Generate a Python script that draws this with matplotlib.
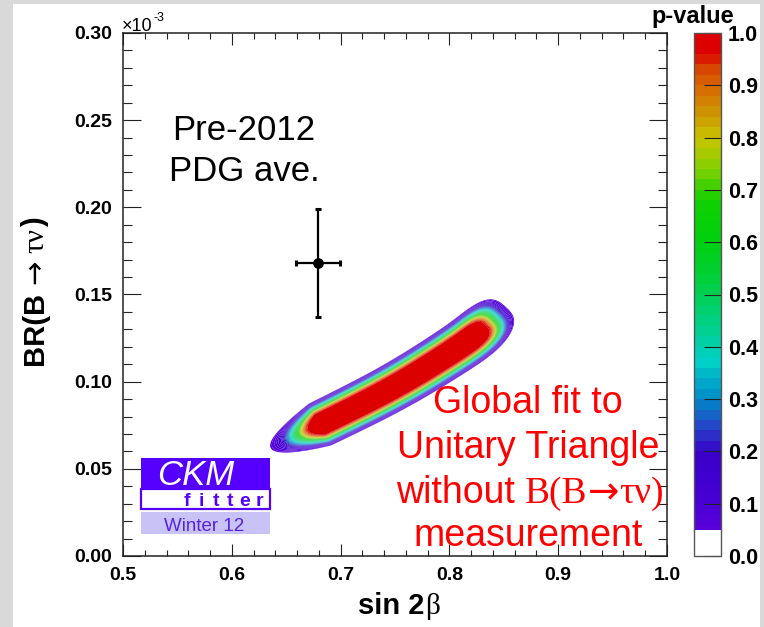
import numpy as np
import matplotlib
matplotlib.use("Agg")
from matplotlib import pyplot as plt
from matplotlib.colors import ListedColormap, BoundaryNorm, LinearSegmentedColormap
from matplotlib.cm import ScalarMappable
from matplotlib.patches import Rectangle
from matplotlib.ticker import MultipleLocator, FormatStrFormatter

plt.rcParams["font.family"] = ["Liberation Sans", "DejaVu Sans"]
plt.rcParams["font.weight"] = "bold"
SERIF = ["Liberation Serif", "DejaVu Serif"]

# Pre-2012 PDG average, BR in units of 1e-3
pdg_sin2b = 0.679
pdg_sin2b_err = 0.020
pdg_br = 0.168
pdg_br_err = 0.031

# global fit band: ridge line, half-width (axis-fraction units), plateau ends
ridge_x = [0.628, 0.692, 0.750, 0.798, 0.826, 0.851, 0.874]
ridge_y = [0.0597, 0.0786, 0.0969, 0.1153, 0.1273, 0.1423, 0.1577]
ridge_halfwidth = [0.044, 0.045, 0.046, 0.047, 0.048, 0.048, 0.048]
core_x = [0.681, 0.815]
tail_len = [0.101, 0.10]
plateau = 0.445

# p-value palette
pal_vals = [0.05, 0.12, 0.20, 0.24, 0.30, 0.37, 0.45, 0.52, 0.60, 0.68,
            0.74, 0.80, 0.84, 0.90, 0.94, 0.96, 1.00]
pal_cols = ["#5a00dc", "#4400d2", "#3800c8", "#2840c8", "#0088c8", "#00d0c8",
            "#00d080", "#00d040", "#00d010", "#10d000", "#80d000", "#c8c400",
            "#cc9c00", "#d86800", "#d84000", "#dd0000", "#dd0000"]

XMIN, XMAX, YMIN, YMAX = 0.5, 1.0, 0.0, 0.30


def chaikin(pts, n=3):
    pts = np.asarray(pts, dtype=float)
    for _ in range(n):
        a, b = pts[:-1], pts[1:]
        mid = np.empty((2 * len(a), pts.shape[1]))
        mid[0::2] = 0.75 * a + 0.25 * b
        mid[1::2] = 0.25 * a + 0.75 * b
        pts = np.vstack([pts[:1], mid, pts[-1:]])
    return pts


def band_pvalue(X, Y):
    # distances measured in axis fractions so the band width is even on screen
    line = chaikin(np.column_stack([ridge_x, ridge_y, ridge_halfwidth]))
    lx, ly, lw = line[:, 0], line[:, 1], line[:, 2]
    cu = (lx - XMIN) / (XMAX - XMIN)
    cv = (ly - YMIN) / (YMAX - YMIN)
    U = (X - XMIN) / (XMAX - XMIN)
    V = (Y - YMIN) / (YMAX - YMIN)
    seg = np.hypot(np.diff(cu), np.diff(cv))
    s_nodes = np.concatenate([[0.0], np.cumsum(seg)])
    best_d = np.full(U.shape, np.inf)
    best_s = np.zeros(U.shape)
    for i in range(len(seg)):
        dx, dy = cu[i + 1] - cu[i], cv[i + 1] - cv[i]
        t = np.clip(((U - cu[i]) * dx + (V - cv[i]) * dy) / seg[i] ** 2, 0, 1)
        d = np.hypot(U - (cu[i] + t * dx), V - (cv[i] + t * dy))
        m = d < best_d
        best_d[m] = d[m]
        best_s[m] = (s_nodes[i] + t * seg[i])[m]
    w = np.interp(best_s, s_nodes, lw)
    s_a = np.interp(core_x[0], lx, s_nodes)
    s_b = np.interp(core_x[1], lx, s_nodes)
    rt = best_d / w
    e_lo = np.clip(s_a - best_s, 0, None) / tail_len[0]
    e_hi = np.clip(best_s - s_b, 0, None) / tail_len[1]
    # lower end tapers to a point, upper end stays rounder
    r = np.where(e_lo > 0, np.sqrt(rt ** 2 + e_lo), (rt ** 3 + e_hi ** 3) ** (1 / 3))
    sig = (1 - plateau) / np.sqrt(2 * np.log(20))
    p = np.where(r < plateau, 1.0, np.exp(-0.5 * ((r - plateau) / sig) ** 2))
    return np.clip(p, 0, 0.9999)


# colour bands: white below 0.05, then 0.02 steps
bounds = [0.0, 0.05] + list(np.round(np.arange(0.06, 1.0001, 0.02), 2))
smooth = LinearSegmentedColormap.from_list(
    "pv", [((v - 0.05) / 0.95, c) for v, c in zip(pal_vals, pal_cols)])
band_cols = ["white"] + [smooth(((a + b) / 2 - 0.05) / 0.95)
                         for a, b in zip(bounds[1:-1], bounds[2:])]
cmap = ListedColormap(band_cols)
norm = BoundaryNorm(bounds, cmap.N)


def fx(px):
    return px / 764


def fy(py):
    return 1 - py / 627


fig = plt.figure(figsize=(7.64, 6.27), dpi=100, facecolor="#d9d9d9")
renderer = fig.canvas.get_renderer()
fig.add_artist(Rectangle((fx(13), 0), fx(760) - fx(13), fy(4), transform=fig.transFigure,
                         facecolor="white", edgecolor="none", zorder=-5))


def text_run(xc, base, pieces, vertical=False, **common):
    """Lay out differently styled pieces one after another, centred on xc."""
    styles = [{**common, **kw} for _, _, kw in pieces]
    widths = []
    for (txt, gap, _), st in zip(pieces, styles):
        t = fig.text(0, 0, txt, **st)
        widths.append(t.get_window_extent(renderer).width + gap)
        t.remove()
    total = sum(widths)
    if vertical:
        # reads bottom to top, pixel rows count downwards
        pos = xc + total / 2
        for (txt, _, _), st, wd in zip(pieces, styles, widths):
            fig.text(fx(base), fy(pos), txt, rotation=90, rotation_mode="anchor",
                     ha="left", va="baseline", **st)
            pos -= wd
    else:
        pos = xc - total / 2
        for (txt, _, _), st, wd in zip(pieces, styles, widths):
            fig.text(fx(pos), fy(base), txt, ha="left", va="baseline", **st)
            pos += wd


ax = fig.add_axes([fx(123), fy(556), fx(667) - fx(123), fy(33) - fy(556)])
gx = np.linspace(XMIN, XMAX, 800)
gy = np.linspace(YMIN, YMAX, 800)
GX, GY = np.meshgrid(gx, gy)
P = band_pvalue(GX, GY)
ax.contourf(GX, GY, P, levels=bounds[1:], cmap=cmap, norm=norm, antialiased=True)

ax.errorbar([pdg_sin2b], [pdg_br], xerr=[pdg_sin2b_err], yerr=[pdg_br_err], fmt="o",
            color="black", ms=6.7, lw=1.6, capsize=2, capthick=2.2, zorder=5)

ax.set_xlim(XMIN, XMAX)
ax.set_ylim(YMIN, YMAX)
ax.xaxis.set_major_locator(MultipleLocator(0.1))
ax.xaxis.set_minor_locator(MultipleLocator(0.02))
ax.yaxis.set_major_locator(MultipleLocator(0.05))
ax.yaxis.set_minor_locator(MultipleLocator(0.01))
ax.xaxis.set_major_formatter(FormatStrFormatter("%.1f"))
ax.yaxis.set_major_formatter(FormatStrFormatter("%.2f"))
ax.tick_params(which="both", direction="in", top=True, right=True, width=0.8,
               colors="#222222", labelcolor="black", labelsize=14)
ax.tick_params(axis="x", which="major", length=8.6, pad=8)
ax.tick_params(axis="x", which="minor", length=4.3)
ax.tick_params(axis="y", which="major", length=13, pad=8)
ax.tick_params(axis="y", which="minor", length=6.5)
for sp in ax.spines.values():
    sp.set_linewidth(1.1)
    sp.set_color("#222222")

fig.text(fx(122), fy(31), "×10", fontsize=13, fontweight="normal", ha="left", va="baseline")
fig.text(fx(154), fy(21), "-3", fontsize=9, fontweight="normal", ha="left", va="baseline")

# text annotations
fig.text(fx(244), fy(140), "Pre-2012", fontsize=25, fontweight="normal",
         ha="center", va="baseline")
fig.text(fx(244), fy(181), "PDG ave.", fontsize=25, fontweight="normal",
         ha="center", va="baseline")
arrow = {"family": ["DejaVu Sans"], "fontweight": "normal"}
serif = {"family": SERIF, "fontweight": "normal"}
red = dict(fontsize=27, fontweight="normal", color="#ff0000", zorder=6)
fig.text(fx(528), fy(413), "Global fit to", ha="center", va="baseline", **red)
fig.text(fx(528), fy(458), "Unitary Triangle", ha="center", va="baseline", **red)
text_run(530, 503, [("without", 10, {}), ("B(B", 0, serif), ("→", 0, arrow),
                    ("τν)", 0, serif)], **red)
fig.text(fx(528), fy(546), "measurement", ha="center", va="baseline", **red)

# CKMfitter logo
logo = "#5500ff"
ax.add_patch(Rectangle((0.0325, 0.128), 0.2377, 0.060, transform=ax.transAxes,
                       facecolor=logo, edgecolor="none", zorder=4))
ax.add_patch(Rectangle((0.0325, 0.0899), 0.2377, 0.0381, transform=ax.transAxes,
                       facecolor="white", edgecolor=logo, lw=1.6, zorder=4))
ax.add_patch(Rectangle((0.0325, 0.042), 0.2377, 0.0421, transform=ax.transAxes,
                       facecolor="#c9c2f7", edgecolor="none", zorder=4))
fig.text(fx(157), fy(485), "CKM", fontsize=25, fontweight="normal", style="italic",
         color="white", ha="left", va="baseline", zorder=6)
for i, ch in enumerate("fitter"):
    fig.text(fx(187 + 14.5 * i), fy(506), ch, fontsize=14, fontweight="bold",
             color=logo, ha="center", va="baseline", zorder=6)
fig.text(fx(204), fy(531), "Winter 12", fontsize=13.5, fontweight="normal",
         color="#5522dd", ha="center", va="baseline", zorder=6)

# axis titles
text_run(291, 43, [("BR(B", 7, {}), ("→", 7, arrow), ("τν", 1, serif), (")", 0, {})],
         vertical=True, fontsize=21)
text_run(399, 614, [("sin 2", 1, {}), ("β", 0, serif)], fontsize=21)

# colour scale
cax = fig.add_axes([fx(694), fy(556), fx(721) - fx(694), fy(33) - fy(556)])
cb = fig.colorbar(ScalarMappable(norm=norm, cmap=cmap), cax=cax, spacing="proportional",
                  ticks=np.round(np.arange(0, 1.01, 0.1), 1))
cb.ax.yaxis.set_major_formatter(FormatStrFormatter("%.1f"))
cb.ax.tick_params(direction="in", length=12, width=0.8, pad=5, labelsize=15.5,
                  colors="#222222", labelcolor="black")
cb.ax.minorticks_off()
cb.outline.set_linewidth(1.0)
cb.outline.set_edgecolor("#555555")
fig.text(fx(693), fy(16), "p-value", fontsize=17, ha="center", va="center")

fig.savefig("out.png", dpi=100, facecolor=fig.get_facecolor())
